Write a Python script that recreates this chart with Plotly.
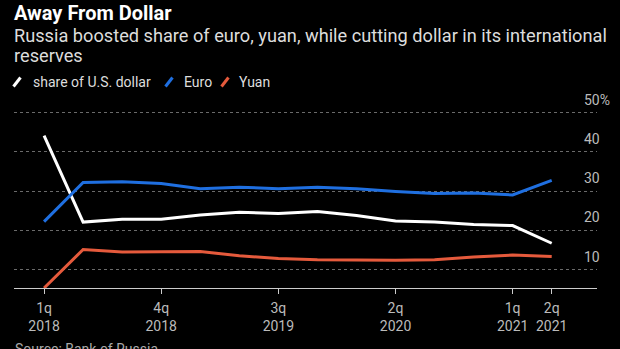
import plotly.graph_objects as go

# ---- data ----
quarters = ["1q 2018", "2q 2018", "3q 2018", "4q 2018", "1q 2019", "2q 2019", "3q 2019",
            "4q 2019", "1q 2020", "2q 2020", "3q 2020", "4q 2020", "1q 2021", "2q 2021"]
usd = [44.1, 22.1, 22.8, 22.8, 23.9, 24.6, 24.3, 24.8, 23.8, 22.4, 22.1, 21.5, 21.2, 16.7]
eur = [22.2, 32.2, 32.4, 31.9, 30.6, 31.0, 30.6, 31.0, 30.6, 29.9, 29.4, 29.5, 29.0, 32.7]
cny = [5.3, 15.1, 14.5, 14.6, 14.6, 13.5, 12.8, 12.5, 12.4, 12.4, 12.5, 13.2, 13.7, 13.3]
tick_idx = [0, 3, 6, 9, 12, 13]
tick_text = ["1q<br>2018", "4q<br>2018", "3q<br>2019", "2q<br>2020", "1q<br>2021", "2q<br>2021"]
y_ticks = [10, 20, 30, 40, 50]
y_tick_text = ["10", "20", "30", "40", "50%"]
series_names = ["share of U.S. dollar", "Euro", "Yuan"]
colors = ["#ffffff", "#1f6fe0", "#e55a3c"]
subtitle_lines = ["Russia boosted share of euro, yuan, while cutting dollar in its international",
                  "reserves"]

# legend key layout (pixels): slash centre x, text left x
legend_slash_x = [17, 169, 225]
legend_text_x = [31, 182, 237]
LEGEND_Y = 82

W, H = 620, 349
ML, MR, MT, MB = 14, 23, 110, 61
PW, PH = W - ML - MR, H - MT - MB


def pxx(px):
    return (px - ML) / PW


def pxy(py):
    return (H - MB - py) / PH


FONT = "Roboto"
x = list(range(len(quarters)))

fig = go.Figure()
for name, vals, col in zip(series_names, [usd, eur, cny], colors):
    fig.add_trace(go.Scatter(x=x, y=vals, mode="lines", name=name, showlegend=False,
                             line=dict(color=col, width=3), hovertext=quarters))

annotations = [
    dict(text="<b>Away From Dollar</b>", xref="paper", yref="paper", x=pxx(12), y=pxy(13),
         xanchor="left", yanchor="middle", showarrow=False,
         font=dict(family=FONT, size=20, color="#ffffff")),
    dict(text="Source: Bank of Russia", xref="paper", yref="paper", x=pxx(13), y=pxy(339),
         xanchor="left", yanchor="top", showarrow=False,
         font=dict(family=FONT, size=14, color="#aaaaaa")),
]
for line, cy in zip(subtitle_lines, [35, 56]):
    annotations.append(dict(text=line, xref="paper", yref="paper", x=pxx(12), y=pxy(cy),
                            xanchor="left", yanchor="middle", showarrow=False,
                            font=dict(family=FONT, size=18.2, color="#dddddd")))
shapes = []
for name, col, sx, tx in zip(series_names, colors, legend_slash_x, legend_text_x):
    annotations.append(dict(text=name, xref="paper", yref="paper", x=pxx(tx), y=pxy(LEGEND_Y),
                            xanchor="left", yanchor="middle", showarrow=False,
                            font=dict(family=FONT, size=14, color="#dddddd")))
    shapes.append(dict(type="line", xref="paper", yref="paper",
                       x0=pxx(sx - 3.5), y0=pxy(LEGEND_Y + 4.5),
                       x1=pxx(sx + 3.5), y1=pxy(LEGEND_Y - 4.5),
                       line=dict(color=col, width=3)))
for v, t in zip(y_ticks, y_tick_text):
    annotations.append(dict(text=t, xref="paper", yref="y", x=pxx(582), y=v, xanchor="left",
                            yanchor="middle", yshift=13, showarrow=False,
                            font=dict(family=FONT, size=14, color="#bbbbbb")))

fig.update_layout(
    width=W, height=H,
    margin=dict(l=ML, r=MR, t=MT, b=MB, pad=0),
    paper_bgcolor="#000000", plot_bgcolor="#000000",
    showlegend=False,
    annotations=annotations,
    shapes=shapes,
    xaxis=dict(range=[-0.77, 14.16], tickvals=tick_idx, ticktext=tick_text, ticks="outside",
               ticklen=5, tickcolor="#cccccc", showline=True, linecolor="#cccccc", linewidth=1,
               showgrid=False, zeroline=False, ticklabelstandoff=2,
               tickfont=dict(family=FONT, size=14, color="#bbbbbb")),
    yaxis=dict(range=[5.3, 50.65], tickvals=y_ticks, showticklabels=False, showgrid=True,
               gridcolor="#6a6a6a", griddash="dot", gridwidth=1, zeroline=False, showline=False),
)

fig.write_html("out.html")
